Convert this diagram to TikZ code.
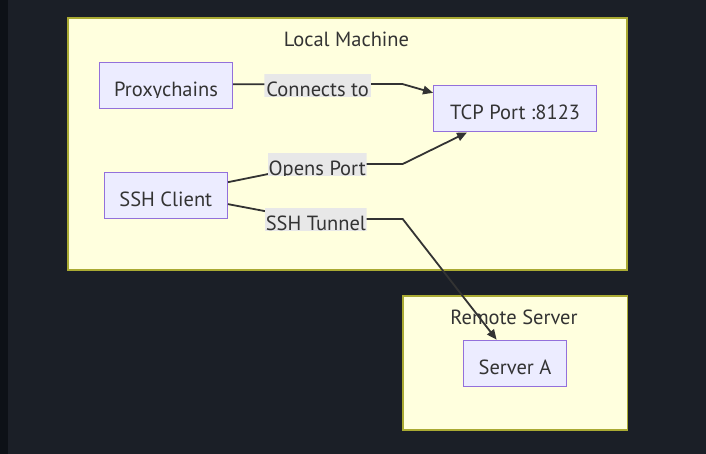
\documentclass[tikz,border=0pt]{standalone}
\usepackage{fontspec}
\setmainfont{PT Sans}
\usetikzlibrary{arrows.meta}
\definecolor{bgdark}{HTML}{1B1F27}
\definecolor{strip}{HTML}{0D1117}
\definecolor{clfill}{HTML}{FFFFDE}
\definecolor{cldraw}{HTML}{AAAA33}
\definecolor{ndfill}{HTML}{ECECFF}
\definecolor{nddraw}{HTML}{9370DB}
\definecolor{txt}{HTML}{333333}
\definecolor{lblbg}{HTML}{E8E8E8}
\tikzset{
  cluster/.style={fill=clfill, draw=cldraw, line width=1.3pt},
  cltitle/.style={anchor=base, inner sep=0pt, text=txt, font=\fontsize{20.5}{24}\selectfont},
  nodebox/.style={rectangle, fill=ndfill, draw=nddraw, line width=1.3pt, inner sep=0pt,
    minimum height=46pt, text height=34pt, text depth=12pt, text=txt,
    font=\fontsize{20.5}{24}\selectfont},
  nodetext/.style={anchor=base, inner sep=0pt, text=txt, font=\fontsize{20.5}{24}\selectfont},
  edge/.style={draw=txt, line width=1.8pt, -{Triangle[length=10pt,width=8.5pt]}},
  lbl/.style={rectangle, fill=lblbg, inner sep=0pt, minimum height=22.7pt,
    text height=22.7pt, text depth=0pt, text=txt, font=\fontsize{20.5}{24}\selectfont},
}
\begin{document}
\begin{tikzpicture}[x=1pt, y=-1pt]
\useasboundingbox (0,0) rectangle (706,454);
\fill[bgdark] (0,0) rectangle (706,454);
\fill[strip] (0,0) rectangle (8,454);
% clusters
\draw[cluster] (68,18) rectangle (627,270);
\node[cltitle] (tlocal) at (346.5,47) {Local Machine};
\draw[cluster] (403,296) rectangle (627.5,430);
\node[cltitle] (tremote) at (514,324.3) {Remote Server};
% nodes
\node[nodebox, minimum width=133pt] (px) at (166,85.5) {\phantom{Proxychains}};
\begin{scope}
\clip (px.north west) rectangle ([yshift=-0.6pt]px.base east);
\node[nodetext] (pxt) at (px.base) {Proxychains};
\end{scope}
\node[nodebox, minimum width=163pt] (tcp) at (515.2,108.8) {TCP Port :8123};
\node[nodebox, minimum width=123pt] (ssh) at (165.8,195.4) {SSH Client};
\node[nodebox, minimum width=102.5pt] (srv) at (515,363.3) {Server A};
% bend points
\coordinate (b1) at (402.3,84);
\coordinate (a2) at (268.3,174);
\coordinate (c2) at (366.7,164);
\coordinate (b2) at (402.7,164);
\coordinate (a3) at (268,211.7);
\coordinate (c3) at (366.7,219);
\coordinate (b3) at (402.7,219);
% edges
\draw[edge] (px.1) -- (b1) -- (tcp.169);
\draw[edge] (ssh.12) -- (a2) -- (c2) -- (b2) -- (tcp);
\draw[edge] (ssh.-8) -- (a3) -- (c3) -- (b3) -- (srv);
% edge labels
\begin{scope}
\clip (264.3,74) rectangle (371,96.7);
\node[lbl, minimum width=106.7pt] (l1) at (317.65,85.35) {Connects to};
\end{scope}
\begin{scope}
\clip (267.7,153.3) rectangle (366.7,176);
\node[lbl, minimum width=99pt] (l2) at (317.2,164.65) {Opens Port};
\end{scope}
\begin{scope}
\clip (265,208) rectangle (366.7,230.7);
\node[lbl, minimum width=101.7pt] (l3) at (315.85,219.35) {SSH Tunnel};
\end{scope}
\end{tikzpicture}
\end{document}
